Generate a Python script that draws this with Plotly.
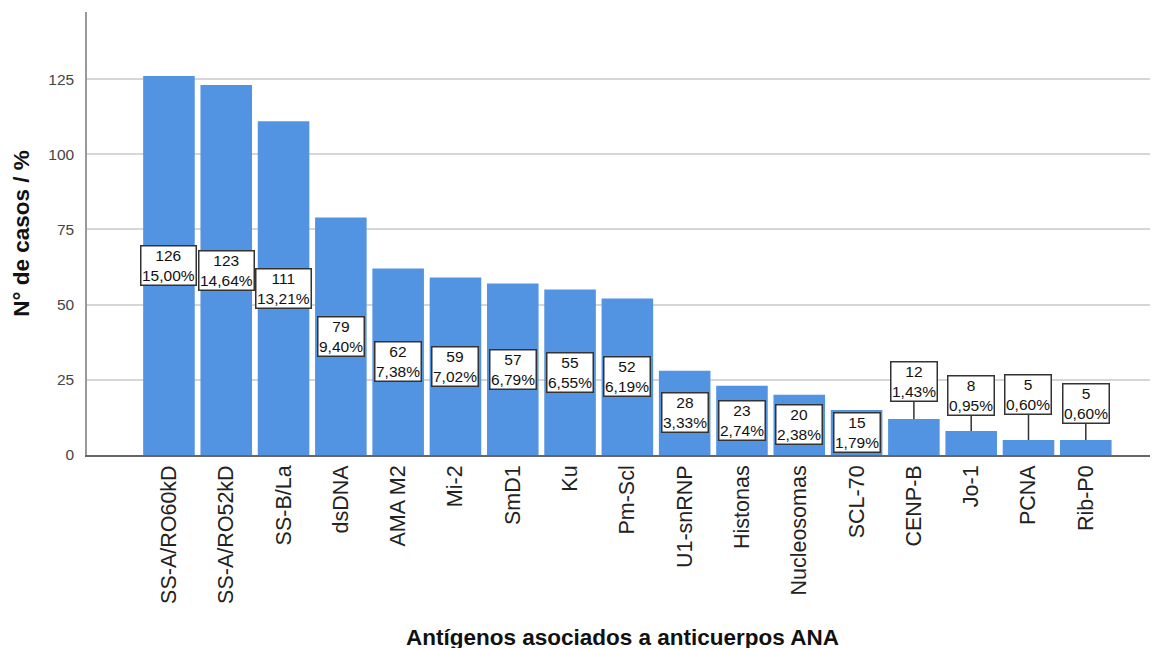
import plotly.graph_objects as go

# ---- data ----
categories = ["SS-A/RO60kD", "SS-A/RO52kD", "SS-B/La", "dsDNA", "AMA M2", "Mi-2",
              "SmD1", "Ku", "Pm-Scl", "U1-snRNP", "Histonas", "Nucleosomas",
              "SCL-70", "CENP-B", "Jo-1", "PCNA", "Rib-P0"]
counts = [126, 123, 111, 79, 62, 59, 57, 55, 52, 28, 23, 20, 15, 12, 8, 5, 5]
percents = ["15,00%", "14,64%", "13,21%", "9,40%", "7,38%", "7,02%", "6,79%",
            "6,55%", "6,19%", "3,33%", "2,74%", "2,38%", "1,79%", "1,43%",
            "0,95%", "0,60%", "0,60%"]
y_ticks = [0, 25, 50, 75, 100, 125]

# ---- style ----
BAR_COLOR = "#5294e2"
LABEL_FONT = dict(family="Liberation Sans, Arial, sans-serif", size=15.5, color="#111")
# pixel offsets of leader-line labels for the small bars (style only)
leader_offsets = {"CENP-B": -37, "Jo-1": -35, "PCNA": -45, "Rib-P0": -36}

fig = go.Figure()
fig.add_trace(go.Bar(
    x=categories, y=counts, marker=dict(color=BAR_COLOR, line=dict(width=0)),
    width=0.9, hoverinfo="x+y",
))

annotations = []
for cat, v, p in zip(categories, counts, percents):
    txt = f"{v}<br>{p}"
    common = dict(text=txt, font=LABEL_FONT, bgcolor="white", bordercolor="#333",
                  borderwidth=1.5, borderpad=0.5, xref="x", yref="y", align="center")
    if cat in leader_offsets:
        annotations.append(dict(x=cat, y=v, showarrow=True, arrowhead=0,
                                arrowwidth=1.5, arrowcolor="#333", standoff=0,
                                ax=0, ay=leader_offsets[cat], **common))
    else:
        annotations.append(dict(x=cat, y=v / 2, showarrow=False, **common))

fig.update_layout(
    width=1158, height=648,
    margin=dict(l=79, r=8, t=4, b=201),
    paper_bgcolor="white", plot_bgcolor="white",
    showlegend=False,
    annotations=annotations,
    font=dict(family="Liberation Sans, Arial, sans-serif", color="#222"),
    xaxis=dict(
        type="category", range=[-1.43, 17.26],
        tickangle=-90, tickfont=dict(size=21.5, color="#222"),
        showline=True, linecolor="#666", linewidth=1.5,
        showgrid=False, ticks="", automargin=False,
        title=dict(text="<b>Antígenos asociados a anticuerpos ANA</b>",
                   font=dict(size=22.5, color="#111"), standoff=26),
    ),
    yaxis=dict(
        range=[0, 147.3], tickvals=y_ticks,
        tickfont=dict(size=15.5, color="#444"),
        showline=True, linecolor="#999", linewidth=1.5,
        showgrid=True, gridcolor="#d6d6d6", gridwidth=1.8,
        zeroline=False, ticks="", ticklabelstandoff=8, automargin=False,
        title=dict(text="<b>N° de casos / %</b>",
                   font=dict(size=22.5, color="#111"), standoff=12),
    ),
    bargap=0.1,
)

fig.write_html("out.html")
